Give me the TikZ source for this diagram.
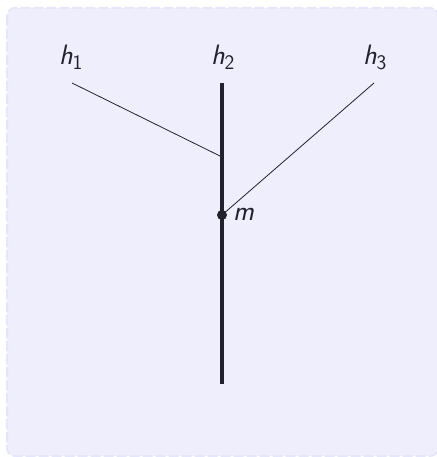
\documentclass[tikz,border=0pt]{standalone}
\usetikzlibrary{calc}
\definecolor{bgfill}{HTML}{EEEEFD}
\definecolor{bgdraw}{HTML}{E6E6FA}
\definecolor{ink}{HTML}{22222F}
\tikzset{
  lbl/.style={font=\fontsize{28}{32}\selectfont\sffamily, text=ink, inner sep=0pt},
  thinline/.style={draw=ink, line width=0.8pt},
  thickline/.style={draw=ink, line width=3.3pt},
}
\begin{document}
\begin{tikzpicture}[x=1pt,y=-1pt]
\useasboundingbox (0,0) rectangle (436,457);
\draw[fill=bgfill, draw=bgdraw, dash pattern=on 10pt off 3pt, line width=2pt, rounded corners=8pt] (7,8) rectangle (438,456);
\node[lbl] (h1) at (71,57) {\textit{h}$_{\mathsf{1}}$};
\node[lbl] (h2) at (223,57) {\textit{h}$_{\mathsf{2}}$};
\node[lbl] (h3) at (375,57) {\textit{h}$_{\mathsf{3}}$};
\coordinate (a1) at (72,83);
\coordinate (a2) at (222,83);
\coordinate (a3) at (374,83);
\coordinate (j) at (222,157);
\coordinate (bot) at (222,384);
\coordinate (mpt) at (222,215);
\draw[thickline] (a2) -- (bot);
\draw[thinline] (a1) -- (j);
\draw[thinline] (a3) -- (mpt);
\fill[ink] (mpt) circle (5);
\node[lbl, anchor=west] (m) at (233,214) {\textit{m}};
\end{tikzpicture}
\end{document}
